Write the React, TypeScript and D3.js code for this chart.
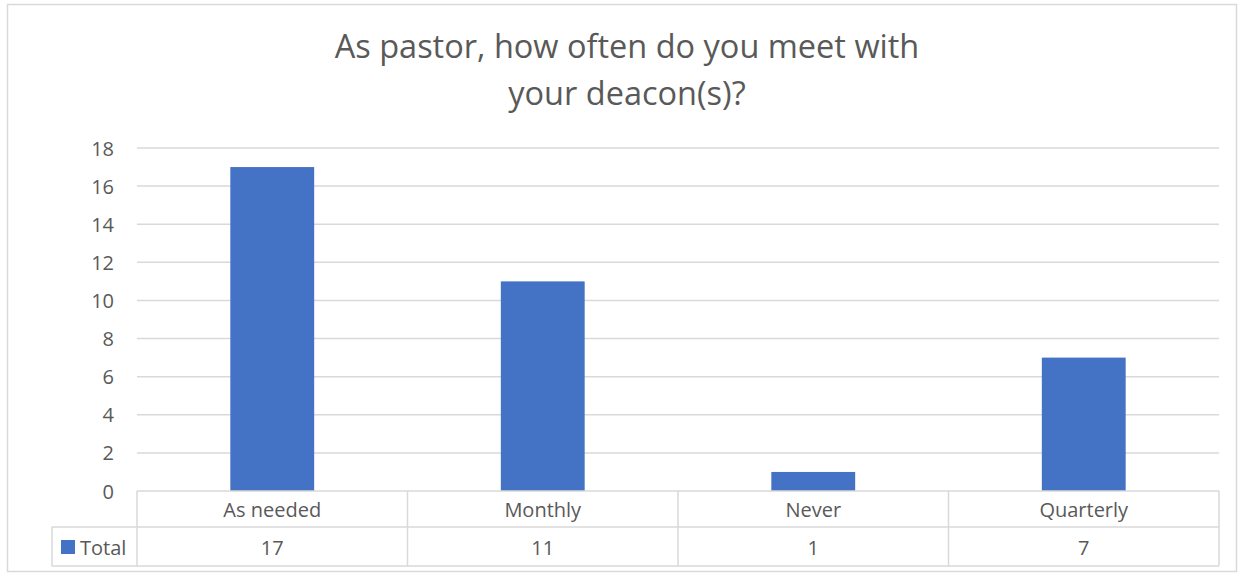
import React from "react";
import * as d3 from "d3";

const categories = ["As needed", "Monthly", "Never", "Quarterly"];
const totals = [17, 11, 1, 7];
const yTicks = [0, 2, 4, 6, 8, 10, 12, 14, 16, 18];
const seriesName = "Total";
const titleLines = ["As pastor, how often do you meet with", "your deacon(s)?"];

const W = 1244;
const H = 577;
const left = 137;
const right = 1219;
const top = 148;
const bottom = 491;
const row1 = 527;
const row2 = 566;
const tableLeft = 52;
const font = "'Open Sans', sans-serif";
const textColor = "#595959";
const gridColor = "#d9d9d9";
const barColor = "#4472c4";

export default function App() {
  const x = d3.scaleBand<string>().domain(categories).range([left, right]).paddingInner(0.69).paddingOuter(0.345);
  const xCell = d3.scaleBand<string>().domain(categories).range([left, right]);
  const y = d3.scaleLinear().domain([0, 18]).range([bottom, top]);

  return (
    <svg width={W} height={H} style={{ position: "absolute", left: 0, top: 0 }} fontFamily={font}>
      <rect x={0} y={0} width={W} height={H} fill="#fff" />
      <rect x={7.5} y={4.5} width={1229} height={567} fill="none" stroke="#d9d9d9" strokeWidth={1.5} />
      {titleLines.map((t, i) => (
        <text key={i} x={627} y={58 + i * 47} textAnchor="middle" fontSize={32.5} fill={textColor}>
          {t}
        </text>
      ))}
      {yTicks.map((t) => (
        <g key={t}>
          {t > 0 && <line x1={left} x2={right} y1={y(t)} y2={y(t)} stroke={gridColor} strokeWidth={1.5} />}
          <text x={114} y={y(t) + 7.5} textAnchor="end" fontSize={20} fill={textColor}>
            {t}
          </text>
        </g>
      ))}
      {categories.map((c, i) => (
        <rect key={c} x={x(c)} y={y(totals[i])} width={x.bandwidth()} height={bottom - y(totals[i])} fill={barColor} />
      ))}
      {/* data table */}
      <g stroke={gridColor} strokeWidth={1.5} fill="none">
        <line x1={left} x2={right} y1={bottom} y2={bottom} />
        <line x1={tableLeft} x2={right} y1={row1} y2={row1} />
        <line x1={tableLeft} x2={right} y1={row2} y2={row2} />
        <line x1={tableLeft} x2={tableLeft} y1={row1} y2={row2} />
        {categories.map((c) => (
          <line key={c} x1={xCell(c)} x2={xCell(c)} y1={bottom} y2={row2} />
        ))}
        <line x1={right} x2={right} y1={bottom} y2={row2} />
      </g>
      {categories.map((c, i) => (
        <g key={c}>
          <text x={(xCell(c) as number) + xCell.bandwidth() / 2} y={517} textAnchor="middle" fontSize={20} fill={textColor}>
            {c}
          </text>
          <text x={(xCell(c) as number) + xCell.bandwidth() / 2} y={555} textAnchor="middle" fontSize={20} fill={textColor}>
            {totals[i]}
          </text>
        </g>
      ))}
      <rect x={61} y={540} width={14} height={14} fill={barColor} />
      <text x={80} y={555} fontSize={20} fill={textColor}>
        {seriesName}
      </text>
    </svg>
  );
}
